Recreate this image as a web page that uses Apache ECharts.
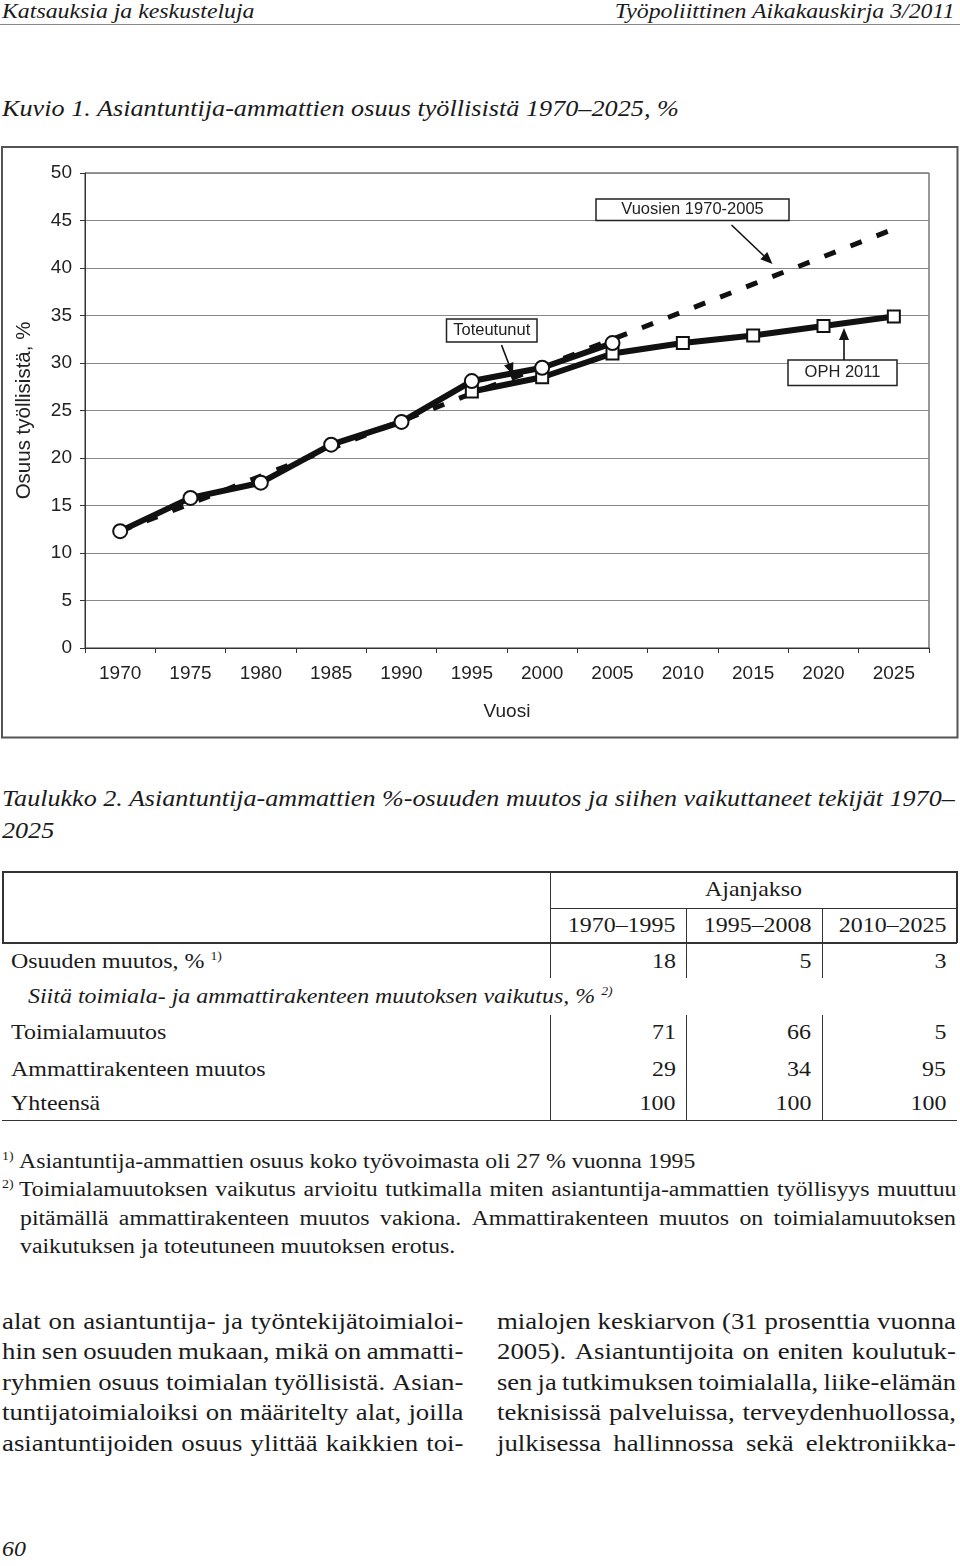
<!DOCTYPE html>
<html><head><meta charset="utf-8">
<script src="https://cdn.jsdelivr.net/npm/echarts@6.0.0/dist/echarts.min.js"></script>
<style>
html,body{margin:0;padding:0;background:#fff;}
body{width:960px;height:1566px;position:relative;overflow:hidden;font-family:'Liberation Serif','Times New Roman',serif;color:#1a1a1a;}
.t{position:absolute;white-space:nowrap;line-height:1;transform-origin:left top;}
.i{font-style:italic;}
.r{text-align:right;transform-origin:right top;}
.c{transform-origin:center top;}
.hl{position:absolute;background:#333;}
.line{position:absolute;display:flex;justify-content:space-between;white-space:nowrap;line-height:1;transform-origin:left top;}
.sp{font-size:12px;position:relative;top:-8px;}
#chart{position:absolute;left:0;top:140px;width:960px;height:610px;}
</style></head>
<body>
<div class="t i" style="left:2px;top:1px;font-size:20px;transform:scaleX(1.19);">Katsauksia ja keskusteluja</div>
<div class="t i r" style="right:5px;top:1px;font-size:20px;transform:scaleX(1.19);">Työpoliittinen Aikakauskirja 3/2011</div>
<div class="hl" style="left:0;top:24px;width:960px;height:1px;background:#888;"></div>

<div class="t i" style="left:2px;top:97px;font-size:23px;transform:scaleX(1.14);">Kuvio 1. Asiantuntija-ammattien osuus työllisistä 1970–2025, %</div>

<div id="chart"></div>

<div class="t i" style="left:2px;top:787px;font-size:23px;transform:scaleX(1.135);">Taulukko 2. Asiantuntija-ammattien %-osuuden muutos ja siihen vaikuttaneet tekijät 1970–</div>
<div class="t i" style="left:2px;top:819px;font-size:23px;transform:scaleX(1.135);">2025</div>

<div class="t i" style="left:2px;top:1539px;font-size:21px;transform:scaleX(1.14);">60</div>

<script>
// ---------- chart data ----------
const years = ['1970','1975','1980','1985','1990','1995','2000','2005','2010','2015','2020','2025'];
const toteutunut = [12.3, 15.8, 17.4, 21.4, 23.8, 28.1, 29.5, 32.1, null, null, null, null];
const oph2011 = [null, null, null, null, null, 27.0, 28.5, 31.0, 32.1, 32.9, 33.9, 34.9];
const trend19702005 = [12.3, 15.2, 18.1, 21.0, 23.9, 26.8, 29.6, 32.5, 35.4, 38.3, 41.2, 44.1];

// ---------- table data ----------
const periods = ['1970–1995', '1995–2008', '2010–2025'];
const osuudenMuutos = [18, 5, 3];
const toimialamuutos = [71, 66, 5];
const ammattirakenteenMuutos = [29, 34, 95];
const yhteensa = [100, 100, 100];

// ---------- chart ----------
const chart = echarts.init(document.getElementById('chart'), null, {renderer: 'canvas'});
const sans = 'Liberation Sans, Arial, sans-serif';
function arrow(x1, y1, x2, y2) {
  const dx = x2 - x1, dy = y2 - y1, L = Math.hypot(dx, dy), ux = dx / L, uy = dy / L;
  const hl = 12, hw = 5;
  const bx = x2 - ux * hl, by = y2 - uy * hl;
  return [
    {type: 'line', z: 100, shape: {x1: x1, y1: y1, x2: bx, y2: by}, style: {stroke: '#111', lineWidth: 1.6}},
    {type: 'polygon', z: 100, shape: {points: [[x2, y2], [bx - uy * hw, by + ux * hw], [bx + uy * hw, by - ux * hw]]}, style: {fill: '#111'}}
  ];
}
function box(x, y, w, h, text) {
  return [
    {type: 'rect', z: 100, shape: {x: x, y: y, width: w, height: h}, style: {fill: '#fff', stroke: '#222', lineWidth: 1.5}},
    {type: 'text', z: 101, x: x + w / 2, y: y + h / 2, style: {text: text, fill: '#222', font: '16.5px ' + sans, textAlign: 'center', textVerticalAlign: 'middle'}}
  ];
}
const graphics = [].concat(
  [{type: 'rect', z: 0, shape: {x: 2, y: 7, width: 955.5, height: 590.5}, style: {fill: 'none', stroke: '#555', lineWidth: 2}}],
  box(446.5, 179, 90.5, 23, 'Toteutunut'), arrow(501.5, 205, 513, 235),
  box(596, 59, 193, 21.5, 'Vuosien 1970-2005'), arrow(731.5, 85, 772.5, 124),
  box(788, 220, 109, 25.5, 'OPH 2011'), arrow(844, 220, 844, 188)
);
chart.setOption({
  animation: false,
  grid: {left: 85, right: 31, top: 33, bottom: 102, show: true, borderColor: '#333', borderWidth: 1},
  xAxis: {
    type: 'category', data: years, boundaryGap: true,
    axisLine: {lineStyle: {color: '#333', width: 1}},
    axisTick: {show: true, length: 5, lineStyle: {color: '#333'}},
    axisLabel: {fontSize: 19, fontFamily: sans, color: '#222', margin: 16},
    splitLine: {show: false},
    name: 'Vuosi', nameLocation: 'middle', nameGap: 54,
    nameTextStyle: {fontSize: 19, fontFamily: sans, color: '#222'}
  },
  yAxis: {
    type: 'value', min: 0, max: 50, interval: 5,
    axisLine: {show: true, lineStyle: {color: '#333', width: 1}},
    axisTick: {show: true, length: 5, lineStyle: {color: '#333'}},
    axisLabel: {fontSize: 19, fontFamily: sans, color: '#222', margin: 13},
    splitLine: {show: true, lineStyle: {color: '#888', width: 1}},
    name: 'Osuus työllisistä, %', nameLocation: 'middle', nameGap: 50, nameRotate: 90,
    nameTextStyle: {fontSize: 20.5, fontFamily: sans, color: '#222'}
  },
  series: [
    {type: 'line', name: 'Vuosien 1970-2005', data: trend19702005, symbol: 'none', z: 2,
      lineStyle: {color: '#111', width: 5, type: [12, 16]}},
    {type: 'line', name: 'OPH 2011', data: oph2011, symbol: 'rect', symbolSize: 12, z: 3,
      itemStyle: {color: '#fff', borderColor: '#111', borderWidth: 2},
      lineStyle: {color: '#111', width: 6, join: 'round'}},
    {type: 'line', name: 'Toteutunut', data: toteutunut, symbol: 'circle', symbolSize: 14, z: 4,
      itemStyle: {color: '#fff', borderColor: '#111', borderWidth: 2},
      lineStyle: {color: '#111', width: 6, join: 'round'}}
  ],
  graphic: graphics
});

// ---------- helpers for page text ----------
function el(cls, style, html, sx) {
  const d = document.createElement('div'); d.className = cls;
  d.style.cssText = style + (sx ? `transform:scaleX(${sx});` : ''); d.innerHTML = html;
  document.body.appendChild(d); return d;
}
function hline(x, y, w, h) { el('hl', `left:${x}px;top:${y}px;width:${w}px;height:${h}px;`, ''); }
function jline(text, left, top, width, fs, sxMax) {
  const d = document.createElement('div'); d.className = 'line';
  d.style.cssText = `left:${left}px;top:${top}px;width:2000px;font-size:${fs}px;`;
  const spans = text.split(' ').map(w => { const s = document.createElement('span'); s.textContent = w; d.appendChild(s); return s; });
  document.body.appendChild(d);
  let total = 0; spans.forEach(s => total += s.getBoundingClientRect().width);
  total += (spans.length - 1) * fs * 0.2;
  const sx = Math.min(sxMax, width / total);
  d.style.width = (width / sx) + 'px';
  d.style.transform = `scaleX(${sx})`;
}

// ---------- table ----------
const tfs = 21, tsx = 1.14;
hline(2, 871, 955, 1.5);
hline(2, 942, 955, 1.5);
hline(550, 907.5, 407, 1.2);
hline(2, 1119.5, 955, 1.5);
hline(2, 871, 1.5, 72);
hline(956, 871, 1.5, 72);
hline(550, 871, 1.3, 107); hline(550, 1015, 1.3, 105);
hline(686, 908, 1.3, 70); hline(686, 1015, 1.3, 105);
hline(822, 908, 1.3, 70); hline(822, 1015, 1.3, 105);
el('t c', `left:550px;width:407px;text-align:center;top:879px;font-size:${tfs}px;`, 'Ajanjakso', tsx);
const colRights = [284.5, 149, 14];
const rowTops = {head: 915, osuus: 950.7, siita: 986.4, toimiala: 1022.4, ammatti: 1059, yht: 1093};
periods.forEach((p, i) => el('t r', `right:${colRights[i]}px;top:${rowTops.head}px;font-size:${tfs}px;`, p, tsx));
el('t', `left:11px;top:${rowTops.osuus}px;font-size:${tfs}px;`, 'Osuuden muutos, % <span class="sp">1)</span>', tsx);
el('t i', `left:27.5px;top:${rowTops.siita}px;font-size:${tfs}px;`, 'Siitä toimiala- ja ammattirakenteen muutoksen vaikutus, % <span class="sp">2)</span>', tsx);
el('t', `left:11px;top:${rowTops.toimiala}px;font-size:${tfs}px;`, 'Toimialamuutos', tsx);
el('t', `left:11px;top:${rowTops.ammatti}px;font-size:${tfs}px;`, 'Ammattirakenteen muutos', tsx);
el('t', `left:11px;top:${rowTops.yht}px;font-size:${tfs}px;`, 'Yhteensä', tsx);
[[osuudenMuutos, rowTops.osuus], [toimialamuutos, rowTops.toimiala], [ammattirakenteenMuutos, rowTops.ammatti], [yhteensa, rowTops.yht]]
  .forEach(([vals, top]) => vals.forEach((v, i) => el('t r', `right:${colRights[i]}px;top:${top}px;font-size:${tfs}px;`, String(v), tsx)));

// ---------- footnotes ----------
const nfs = 20.5, nsx = 1.16;
el('t', `left:2px;top:1150px;font-size:12px;`, '1)', nsx);
el('t', `left:18.5px;top:1151px;font-size:${nfs}px;`, 'Asiantuntija-ammattien osuus koko työvoimasta oli 27 % vuonna 1995', nsx);
el('t', `left:2px;top:1178px;font-size:12px;`, '2)', nsx);
jline('Toimialamuutoksen vaikutus arvioitu tutkimalla miten asiantuntija-ammattien työllisyys muuttuu', 18.5, 1179, 937.5, nfs, nsx);
jline('pitämällä ammattirakenteen muutos vakiona. Ammattirakenteen muutos on toimialamuutoksen', 20, 1208, 936, nfs, nsx);
el('t', `left:20px;top:1236px;font-size:${nfs}px;`, 'vaikutuksen ja toteutuneen muutoksen erotus.', nsx);

// ---------- body text ----------
const bfs = 23.5, bsx = 1.14;
const leftCol = ['alat on asiantuntija- ja työntekijätoimialoi-', 'hin sen osuuden mukaan, mikä on ammatti-',
  'ryhmien osuus toimialan työllisistä. Asian-', 'tuntijatoimialoiksi on määritelty alat, joilla',
  'asiantuntijoiden osuus ylittää kaikkien toi-'];
const rightCol = ['mialojen keskiarvon (31 prosenttia vuonna', '2005). Asiantuntijoita on eniten koulutuk-',
  'sen ja tutkimuksen toimialalla, liike-elämän', 'teknisissä palveluissa, terveydenhuollossa,',
  'julkisessa hallinnossa sekä elektroniikka-'];
leftCol.forEach((s, k) => jline(s, 2, 1309.5 + k * 30.5, 461.5, bfs, bsx));
rightCol.forEach((s, k) => jline(s, 497, 1309.5 + k * 30.5, 459, bfs, bsx));
</script>
</body></html>
